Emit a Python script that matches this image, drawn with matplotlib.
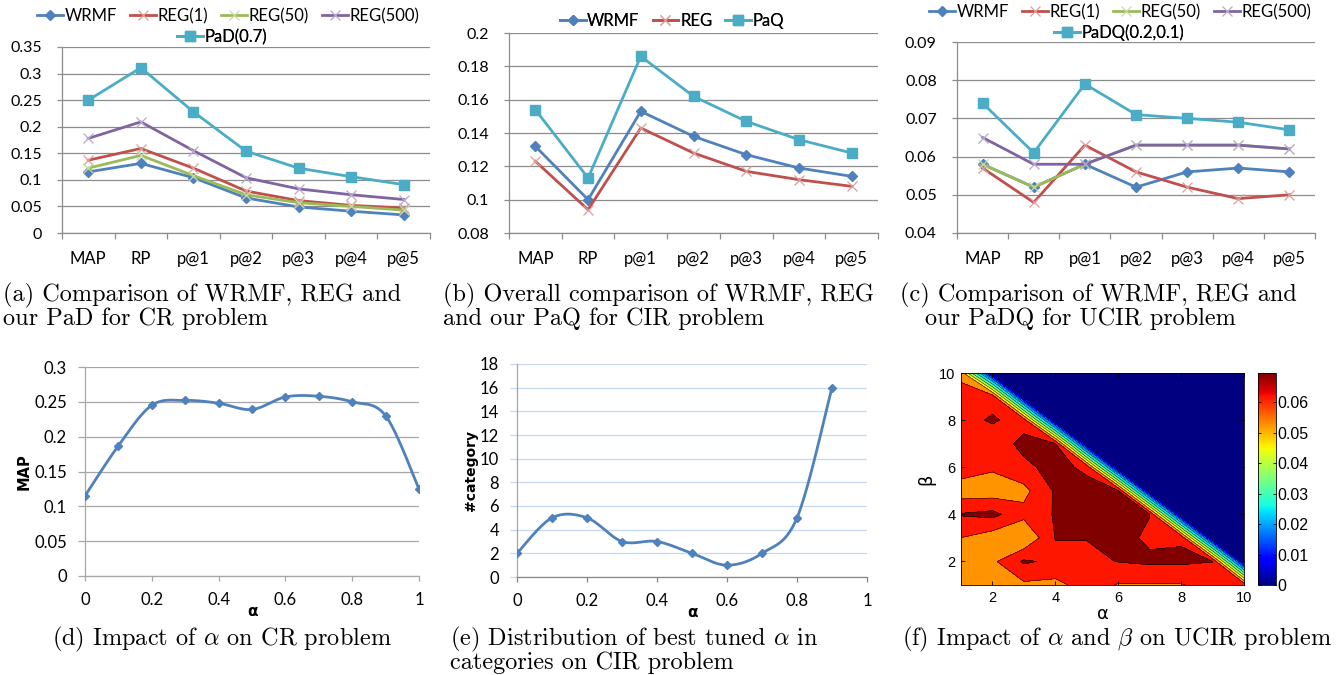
import numpy as np
import matplotlib
matplotlib.use("Agg")
import matplotlib.pyplot as plt
import matplotlib.colors as mcolors
import matplotlib.cm as mcm

# ---------------- data ----------------
metrics = ["MAP", "RP", "p@1", "p@2", "p@3", "p@4", "p@5"]

a_wrmf = [0.115, 0.131, 0.104, 0.066, 0.049, 0.041, 0.034]
a_reg1 = [0.137, 0.159, 0.122, 0.079, 0.061, 0.052, 0.047]
a_reg50 = [0.122, 0.146, 0.108, 0.072, 0.057, 0.050, 0.043]
a_reg500 = [0.178, 0.209, 0.155, 0.104, 0.083, 0.072, 0.063]
a_pad = [0.250, 0.311, 0.228, 0.154, 0.122, 0.106, 0.091]
a_yticks = [0, 0.05, 0.1, 0.15, 0.2, 0.25, 0.3, 0.35]

b_wrmf = [0.132, 0.100, 0.153, 0.138, 0.127, 0.119, 0.114]
b_reg = [0.123, 0.094, 0.143, 0.128, 0.117, 0.112, 0.108]
b_paq = [0.154, 0.113, 0.186, 0.162, 0.147, 0.136, 0.128]
b_yticks = [0.08, 0.1, 0.12, 0.14, 0.16, 0.18, 0.2]

c_wrmf = [0.058, 0.052, 0.058, 0.052, 0.056, 0.057, 0.056]
c_reg1 = [0.057, 0.048, 0.063, 0.056, 0.052, 0.049, 0.050]
c_reg50 = [0.058, 0.052, 0.058, 0.063, 0.063, 0.063, 0.062]
c_reg500 = [0.065, 0.058, 0.058, 0.063, 0.063, 0.063, 0.062]
c_padq = [0.074, 0.061, 0.079, 0.071, 0.070, 0.069, 0.067]
c_yticks = [0.04, 0.05, 0.06, 0.07, 0.08, 0.09]

d_alpha = [0.0, 0.1, 0.2, 0.3, 0.4, 0.5, 0.6, 0.7, 0.8, 0.9, 1.0]
d_map = [0.115, 0.187, 0.245, 0.252, 0.248, 0.239, 0.257, 0.258, 0.250, 0.230, 0.125]
d_yticks = [0, 0.05, 0.1, 0.15, 0.2, 0.25, 0.3]
d_xticks = [0, 0.2, 0.4, 0.6, 0.8, 1]

e_alpha = [0.0, 0.1, 0.2, 0.3, 0.4, 0.5, 0.6, 0.7, 0.8, 0.9]
e_count = [2, 5, 5, 3, 3, 2, 1, 2, 5, 16]
e_yticks = [0, 2, 4, 6, 8, 10, 12, 14, 16, 18]

f_alpha = [1, 2, 3, 4, 5, 6, 7, 8, 9, 10]
f_beta = [1, 2, 3, 4, 5, 6, 7, 8, 9, 10]
# rows: beta = 1..10, columns: alpha = 1..10
f_z = [
    [0.052, 0.052, 0.0546, 0.054, 0.059, 0.0555, 0.0555, 0.0555, 0.059, 0.060],
    [0.052, 0.0546, 0.064, 0.0615, 0.0615, 0.0632, 0.0642, 0.0642, 0.0631, 0.0],
    [0.0559, 0.0521, 0.049, 0.0632, 0.0632, 0.0652, 0.0618, 0.0623, 0.0, 0.0],
    [0.0635, 0.065, 0.058, 0.0636, 0.067, 0.066, 0.0632, 0.0, 0.0, 0.0],
    [0.052, 0.052, 0.054, 0.0639, 0.0666, 0.0635, 0.0, 0.0, 0.0, 0.0],
    [0.060, 0.057, 0.061, 0.066, 0.061, 0.0, 0.0, 0.0, 0.0, 0.0],
    [0.060, 0.058, 0.0655, 0.0632, 0.0, 0.0, 0.0, 0.0, 0.0, 0.0],
    [0.060, 0.064, 0.0595, 0.0, 0.0, 0.0, 0.0, 0.0, 0.0, 0.0],
    [0.0605, 0.060, 0.0, 0.0, 0.0, 0.0, 0.0, 0.0, 0.0, 0.0],
    [0.053, 0.0, 0.0, 0.0, 0.0, 0.0, 0.0, 0.0, 0.0, 0.0],
]
f_levels = [0, 0.007, 0.014, 0.021, 0.028, 0.035, 0.042, 0.049, 0.056, 0.063, 0.070]
f_cbar_ticks = [0, 0.01, 0.02, 0.03, 0.04, 0.05, 0.06]

# ---------------- style ----------------
W, H = 1343, 675
XL_FONT = "Lato"
CAP_FONT = "cmr10"
plt.rcParams["mathtext.fontset"] = "cm"
plt.rcParams["axes.formatter.use_mathtext"] = False

BLUE = "#4F81BD"
RED = "#C0504D"
GREEN = "#9BBB59"
PURPLE = "#8064A2"
CYAN = "#4BACC6"
GRID = "#8C8C8C"

fig = plt.figure(figsize=(W / 100, H / 100), dpi=100)


def px_axes(l, t, r, b):
    return fig.add_axes([l / W, 1 - b / H, (r - l) / W, (b - t) / H])


def fmt(v):
    return ("%g" % v)


def excel_cat_axes(ax, yticks, ylim):
    ax.set_xlim(-0.5, 6.5)
    ax.set_ylim(*ylim)
    ax.set_xticks(range(len(metrics)))
    ax.set_xticklabels(metrics)
    ax.set_xticks(np.arange(-0.5, 7, 1.0), minor=True)
    ax.set_yticks(yticks)
    ax.set_yticklabels([fmt(v) for v in yticks])
    for s in ["top", "right"]:
        ax.spines[s].set_visible(False)
    for s in ["left", "bottom"]:
        ax.spines[s].set_color(GRID)
        ax.spines[s].set_linewidth(0.9)
    ax.yaxis.grid(True, color=GRID, linewidth=0.9)
    ax.set_axisbelow(True)
    ax.tick_params(axis="x", which="major", length=0, pad=13, labelsize=12)
    ax.tick_params(axis="x", which="minor", length=4, color=GRID, width=0.9)
    ax.tick_params(axis="y", length=3.5, color=GRID, width=0.9, pad=11, labelsize=11.5)
    for lab in ax.get_xticklabels() + ax.get_yticklabels():
        lab.set_fontfamily(XL_FONT)


def series(ax, y, color, marker, ms, zorder):
    mk = dict(marker=marker, markersize=ms, color=color, linewidth=2.0,
              markerfacecolor=color, markeredgecolor=color, zorder=zorder)
    if marker == "x":
        mk["markeredgewidth"] = 0.9
        mk["markeredgecolor"] = mcolors.to_hex(
            tuple(0.55 * np.array(mcolors.to_rgb(color)) + 0.45))
    return ax.plot(range(len(y)), y, **mk)[0]


def legend_rows(ax, handles, labels, ncol, xc, yc):
    leg = ax.legend(handles, labels, ncol=ncol, loc="center",
                    bbox_to_anchor=(xc / W, 1 - yc / H), bbox_transform=fig.transFigure,
                    frameon=False, borderpad=0, handlelength=1.55, handletextpad=0.1,
                    columnspacing=0.78, prop={"family": XL_FONT, "size": 12})
    ax.add_artist(leg)
    return leg


# ---------------- (a) ----------------
ax = px_axes(62, 47, 430, 233)
excel_cat_axes(ax, a_yticks, (0, 0.35))
h1 = series(ax, a_wrmf, BLUE, "D", 5, 3)
h2 = series(ax, a_reg1, RED, "x", 7, 4)
h3 = series(ax, a_reg50, GREEN, "x", 7, 5)
h4 = series(ax, a_reg500, PURPLE, "x", 7, 6)
h5 = series(ax, a_pad, CYAN, "s", 6.5, 7)
legend_rows(ax, [h1, h2, h3, h4], ["WRMF", "REG(1)", "REG(50)", "REG(500)"], 4, 228, 16)
legend_rows(ax, [h5], ["PaD(0.7)"], 1, 222, 37)

# ---------------- (b) ----------------
ax = px_axes(509, 33, 878, 233)
excel_cat_axes(ax, b_yticks, (0.08, 0.2))
g1 = series(ax, b_wrmf, BLUE, "D", 5, 3)
g2 = series(ax, b_reg, RED, "x", 7, 4)
g3 = series(ax, b_paq, CYAN, "s", 6.5, 5)
legend_rows(ax, [g1, g2, g3], ["WRMF", "REG", "PaQ"], 3, 672, 21)

# ---------------- (c) ----------------
ax = px_axes(957, 42, 1315, 233)
excel_cat_axes(ax, c_yticks, (0.04, 0.09))
k1 = series(ax, c_wrmf, BLUE, "D", 5, 3)
k2 = series(ax, c_reg1, RED, "x", 7, 4)
k3 = series(ax, c_reg50, GREEN, "x", 7, 5)
k4 = series(ax, c_reg500, PURPLE, "x", 7, 6)
k5 = series(ax, c_padq, CYAN, "s", 6.5, 7)
legend_rows(ax, [k1, k2, k3, k4], ["WRMF", "REG(1)", "REG(50)", "REG(500)"], 4, 1120, 12)
legend_rows(ax, [k5], ["PaDQ(0.2,0.1)"], 1, 1119, 33)


# ---------------- smoothing (Excel-like Bezier) ----------------
def smooth(x, y, n=40):
    P = np.column_stack([np.asarray(x, float), np.asarray(y, float)])
    Pp = np.vstack([P[0], P, P[-1]])
    t = np.linspace(0, 1, n)[:, None]
    pts = []
    for i in range(len(P) - 1):
        p0, p3 = P[i], P[i + 1]
        c1 = p0 + (Pp[i + 2] - Pp[i]) / 6.0
        c2 = p3 - (Pp[i + 3] - Pp[i + 1]) / 6.0
        seg = (1 - t) ** 3 * p0 + 3 * (1 - t) ** 2 * t * c1 + 3 * (1 - t) * t ** 2 * c2 + t ** 3 * p3
        pts.append(seg if i == 0 else seg[1:])
    pts = np.vstack(pts)
    return pts[:, 0], pts[:, 1]


def excel_xy_axes(ax, xticks, yticks, gridcolor, leftcolor, bottomcolor):
    ax.set_xlim(0, 1)
    ax.set_ylim(yticks[0], yticks[-1])
    ax.set_xticks(xticks)
    ax.set_xticklabels([fmt(v) for v in xticks])
    ax.set_yticks(yticks)
    ax.set_yticklabels([fmt(v) for v in yticks])
    for s in ["top", "right"]:
        ax.spines[s].set_visible(False)
    ax.spines["left"].set_color(leftcolor)
    ax.spines["bottom"].set_color(bottomcolor)
    ax.spines["left"].set_linewidth(0.9)
    ax.spines["bottom"].set_linewidth(0.9)
    ax.yaxis.grid(True, color=gridcolor, linewidth=0.9)
    ax.set_axisbelow(True)
    ax.tick_params(axis="x", length=3.5, color=bottomcolor, width=0.9, pad=8, labelsize=12)
    ax.tick_params(axis="y", length=5, color=gridcolor, width=0.9, pad=8, labelsize=12)
    for lab in ax.get_xticklabels() + ax.get_yticklabels():
        lab.set_fontfamily(XL_FONT)


# ---------------- (d) ----------------
ax = px_axes(85, 367, 419, 576)
excel_xy_axes(ax, d_xticks, d_yticks, "#A6A6A6", "#A6A6A6", "#A6A6A6")
sx, sy = smooth(d_alpha, d_map)
ax.plot(sx, sy, color=BLUE, linewidth=2.0, zorder=3)
ax.plot(d_alpha, d_map, linestyle="none", marker="D", markersize=4.5, color=BLUE, zorder=4)
ax.set_xlabel("α", fontfamily="DejaVu Sans", fontweight="bold", fontsize=11, labelpad=-3)
ax.set_ylabel("MAP", fontfamily="DejaVu Sans", fontweight="bold", fontsize=10.5, labelpad=2)

# ---------------- (e) ----------------
ax = px_axes(517, 364, 867, 577)
excel_xy_axes(ax, d_xticks, e_yticks, "#C6D9F1", "#A6A6A6", "#868686")
sx, sy = smooth(e_alpha, e_count)
ax.plot(sx, sy, color=BLUE, linewidth=2.0, zorder=3)
ax.plot(e_alpha, e_count, linestyle="none", marker="D", markersize=4.5, color=BLUE, zorder=4)
ax.set_xlabel("α", fontfamily="DejaVu Sans", fontweight="bold", fontsize=11, labelpad=-3)
ax.set_ylabel("#category", fontfamily="DejaVu Sans", fontweight="bold", fontsize=10, labelpad=1)

# ---------------- (f) ----------------
ax = px_axes(961, 373, 1244, 585)
A, B = np.meshgrid(f_alpha, f_beta)
Z = np.array(f_z)
band_pos = [0.0, 0.13, 0.25, 0.35, 0.45, 0.55, 0.64, 0.75, 0.885, 1.0]
band_cols = [mcm.jet(p) for p in band_pos]
ax.contourf(A, B, Z, levels=f_levels, colors=band_cols)
ax.contour(A, B, Z, levels=f_levels[1:-1], colors="k", linewidths=0.35)
ax.set_xlim(1, 10)
ax.set_ylim(1, 10)
ax.set_xticks([2, 4, 6, 8, 10])
ax.set_yticks([2, 4, 6, 8, 10])
ax.tick_params(direction="in", top=True, right=True, length=3, width=0.6,
               labelsize=10.5, pad=4)
for lab in ax.get_xticklabels() + ax.get_yticklabels():
    lab.set_fontfamily("Liberation Sans")
for s in ax.spines.values():
    s.set_linewidth(0.6)
ax.set_xlabel("α", fontfamily="DejaVu Sans", fontsize=13, labelpad=0)
ax.set_ylabel("β", fontfamily="DejaVu Sans", fontsize=13, labelpad=3)

cax = px_axes(1258, 373, 1276, 585)
sm = mcm.ScalarMappable(norm=mcolors.Normalize(0, 0.0696), cmap="jet")
cb = fig.colorbar(sm, cax=cax)
cb.set_ticks(f_cbar_ticks)
cb.set_ticklabels([fmt(v) for v in f_cbar_ticks])
cax.yaxis.set_ticks_position("both")
cax.tick_params(direction="in", length=2.5, width=0.6, labelsize=11.5, pad=1,
                labelright=True, labelleft=False)
for lab in cax.get_yticklabels():
    lab.set_fontfamily("Liberation Sans")
cb.outline.set_linewidth(0.6)

# ---------------- captions ----------------
CAP = dict(fontfamily=CAP_FONT, fontsize=17.5, va="baseline", ha="left")


def ftext(x, y, s, **kw):
    d = dict(CAP)
    d.update(kw)
    fig.text(x / W, 1 - y / H, s, **d)


ftext(3, 301, "(a) Comparison of WRMF, REG and")
ftext(3, 325, "our PaD for CR problem")
ftext(443, 301, "(b) Overall comparison of WRMF, REG")
ftext(443, 325, "and our PaQ for CIR problem")
ftext(900, 301, "(c) Comparison of WRMF, REG and")
ftext(925, 325, "our PaDQ for UCIR problem")
ftext(52, 645, r"(d) Impact of $\alpha$ on CR problem")
ftext(450, 645, r"(e) Distribution of best tuned $\alpha$ in")
ftext(450, 669, "categories on CIR problem")
ftext(902, 645, r"(f) Impact of $\alpha$ and $\beta$ on UCIR problem")

fig.savefig("out.png", dpi=100)
